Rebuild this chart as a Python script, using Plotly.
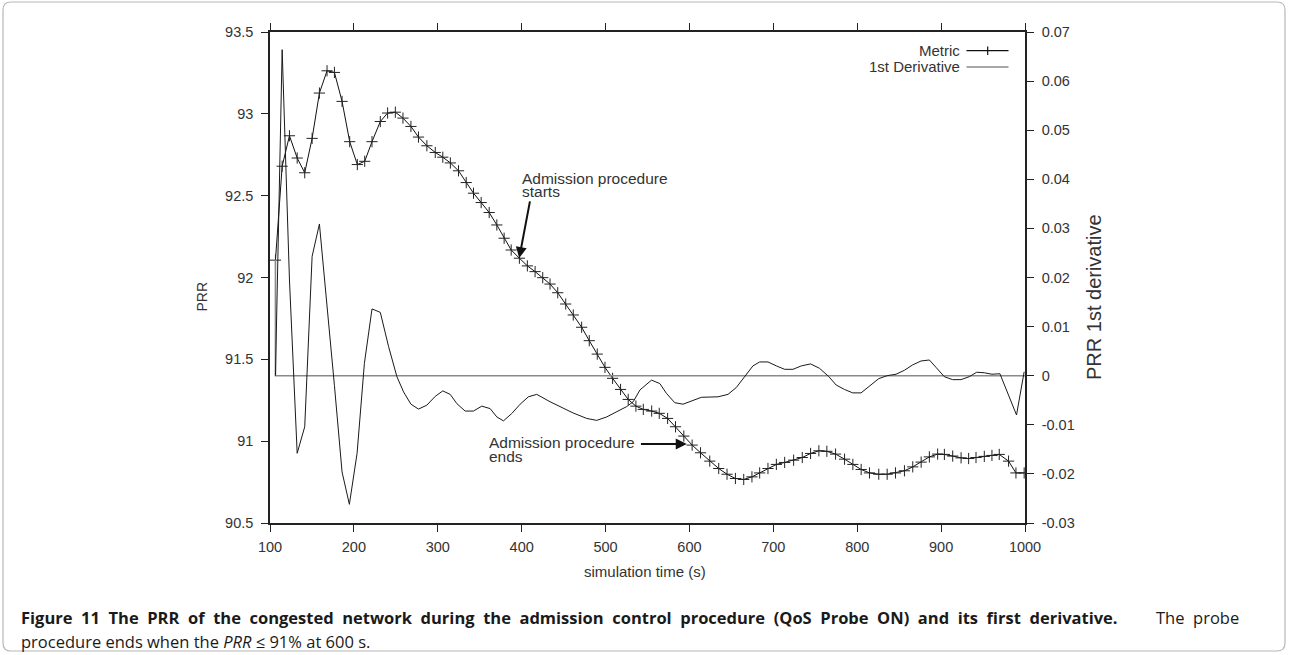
import plotly.graph_objects as go

# ---------------- data ----------------
time_s = [106.5, 114.5, 123.2, 132.4, 141.4, 150.2, 158.9, 168, 176.8, 185.9,
          195, 204.1, 212.9, 221.6, 231.5, 240.2, 249.4, 258.5, 268, 277,
          287, 297, 306, 315, 324.7, 333.9, 342.6, 351.7, 361.3, 370.4,
          379.1, 387.5, 397.3, 406.8, 416, 425.1, 433.8, 443, 452.5, 461.5,
          471.5, 480.6, 490.1, 499.3, 508.4, 517.9, 527, 536.2, 545, 555,
          564, 574, 583.4, 593.3, 603.2, 613.2, 624.2, 634.9, 644.8, 654.8,
          664.7, 674.5, 683.7, 693.6, 703.6, 713.5, 724.2, 734.5, 744.4, 754.3,
          763.8, 774.2, 784.9, 794.8, 804.7, 814.6, 825.7, 835.7, 845.6, 856.3,
          866.2, 876.2, 886, 895.9, 903.9, 913.8, 923.8, 932.8, 941.6, 951.5,
          960.6, 969.3, 980.4, 989.2, 999]

metric = [92.106, 92.68, 92.866, 92.73, 92.64, 92.85, 93.127, 93.263, 93.253, 93.076,
          92.83, 92.69, 92.71, 92.83, 92.953, 93.005, 93.01, 92.974, 92.923, 92.858,
          92.805, 92.764, 92.735, 92.70, 92.652, 92.58, 92.515, 92.458, 92.397, 92.321,
          92.24, 92.168, 92.118, 92.071, 92.036, 91.999, 91.96, 91.907, 91.838, 91.771,
          91.696, 91.614, 91.532, 91.451, 91.384, 91.316, 91.255, 91.214, 91.194, 91.184,
          91.17, 91.139, 91.088, 91.031, 90.976, 90.929, 90.878, 90.833, 90.798, 90.772,
          90.766, 90.782, 90.806, 90.833, 90.858, 90.870, 90.884, 90.90, 90.925, 90.941,
          90.938, 90.921, 90.89, 90.858, 90.827, 90.806, 90.798, 90.798, 90.806, 90.819,
          90.843, 90.872, 90.904, 90.921, 90.919, 90.909, 90.898, 90.894, 90.90, 90.907,
          90.913, 90.919, 90.878, 90.806, 90.806]

deriv_time = [106.5, 114.5, 123.2, 132.4, 141.4, 150.2, 158.9, 168, 176.8, 185.9,
              194.6, 203.8, 212.5, 221.6, 231.5, 241.4, 251.3, 259.2, 268, 277,
              287, 297, 306, 314.8, 322.8, 332.6, 342.5, 352.5, 362.4, 370.4,
              378.3, 388.2, 398.2, 408, 418, 433.8, 445.7, 461.5, 477.5, 489.4,
              501.3, 513.2, 525.1, 533, 541, 554.8, 564.7, 572.6, 582.5, 592.4,
              602.3, 614.2, 634.1, 646, 655.9, 665.8, 675.7, 683.7, 693.6, 703.6,
              713.5, 723.4, 733.4, 744.4, 755.1, 766.2, 774.9, 784.8, 794.7, 804.6,
              814.6, 825.6, 835.6, 846.3, 856.2, 866.1, 876.1, 886, 893.9, 903.8,
              913.7, 923.7, 933.6, 942.3, 951.5, 960.6, 970.1, 989.9, 999]

derivative = [0.0, 0.0664, 0.0195, -0.0158, -0.0104, 0.0243, 0.0309, 0.0148, -0.002, -0.0196,
              -0.0262, -0.0158, 0.0025, 0.0136, 0.0129, 0.0059, -0.0002, -0.0033, -0.0058, -0.0068,
              -0.006, -0.0042, -0.0031, -0.0038, -0.0057, -0.0072, -0.0072, -0.0062, -0.0067, -0.0084,
              -0.0092, -0.0077, -0.0058, -0.0043, -0.0038, -0.0053, -0.0063, -0.0076, -0.0087, -0.0091,
              -0.0084, -0.0074, -0.0063, -0.0053, -0.0029, -0.0009, -0.0016, -0.0036, -0.0055, -0.0058,
              -0.0051, -0.0044, -0.0043, -0.0038, -0.0024, -0.0002, 0.002, 0.0028, 0.0028, 0.002,
              0.0013, 0.0013, 0.002, 0.0024, 0.0015, -0.0002, -0.0019, -0.0028, -0.0035, -0.0035,
              -0.0021, -0.0006, 0.0, 0.0003, 0.0011, 0.0022, 0.003, 0.0032, 0.0017, -0.0002,
              -0.0008, -0.0008, -0.0002, 0.0007, 0.0006, 0.0003, 0.0004, -0.008, 0.0008]

# grey reference line on the derivative axis
ref_time = [106.5, 106.5, 1000]
ref_value = [0.0236, 0.0, 0.0]

x_ticks = [100, 200, 300, 400, 500, 600, 700, 800, 900, 1000]
y_ticks = [90.5, 91, 91.5, 92, 92.5, 93, 93.5]
y_tick_text = ["90.5", "91", "91.5", "92", "92.5", "93", "93.5"]
y2_ticks = [-0.03, -0.02, -0.01, 0, 0.01, 0.02, 0.03, 0.04, 0.05, 0.06, 0.07]
y2_tick_text = ["-0.03", "-0.02", "-0.01", "0", "0.01", "0.02", "0.03", "0.04", "0.05", "0.06", "0.07"]

# ---------------- layout geometry ----------------
W, H = 1289, 655
ML, MR, MT, MB = 270, 264, 32, 132
PW = W - ML - MR
PH = H - MT - MB


def px(xp):
    return (xp - ML) / PW


def py(yp):
    return (H - MB - yp) / PH


FONT = "Liberation Sans, Arial, Helvetica, sans-serif"
TXT = "#333333"
AX = "#222222"

fig = go.Figure()

fig.add_trace(go.Scatter(
    x=ref_time, y=ref_value, yaxis="y2", mode="lines",
    line=dict(color="#8a8a8a", width=1.6), showlegend=False, hoverinfo="skip"))

fig.add_trace(go.Scatter(
    x=deriv_time, y=derivative, yaxis="y2", mode="lines", name="1st Derivative",
    line=dict(color="#1a1a1a", width=1), showlegend=False))

fig.add_trace(go.Scatter(
    x=time_s, y=metric, mode="lines+markers", name="Metric",
    line=dict(color="#111111", width=1),
    marker=dict(symbol="cross-thin", size=8, line=dict(color="#222222", width=1)),
    showlegend=False))

annotations = []
shapes = []


def note(text, xp, yp, size, xanchor="center", yanchor="middle", angle=0, color=TXT, family=FONT):
    annotations.append(dict(text=text, x=px(xp), y=py(yp), xref="paper", yref="paper",
                            xanchor=xanchor, yanchor=yanchor, showarrow=False, textangle=angle,
                            font=dict(family=family, size=size, color=color)))


# axis titles
note("PRR", 201.5, 297, 14, angle=-90)
note("PRR 1st derivative", 1094, 297, 20, angle=-90)
note("simulation time (s)", 645, 571, 15)

# text annotations with arrows
for txt, yv in (("Admission procedure", 92.603), ("starts", 92.527)):
    annotations.append(dict(text=txt, x=398.3, y=yv, xanchor="left", yanchor="middle",
                            showarrow=False, font=dict(family=FONT, size=15.5, color=TXT)))
annotations.append(dict(text="", x=397.1, y=92.119, ax=410.2, ay=92.474, axref="x", ayref="y",
                        showarrow=True, arrowhead=2, arrowsize=1.1, arrowwidth=2, arrowcolor="#111"))

for txt, yv in (("Admission procedure", 90.990), ("ends", 90.908)):
    annotations.append(dict(text=txt, x=358.6, y=yv, xanchor="left", yanchor="middle",
                            showarrow=False, font=dict(family=FONT, size=15.5, color=TXT)))
annotations.append(dict(text="", x=596.8, y=90.982, ax=540.4, ay=90.982, axref="x", ayref="y",
                        showarrow=True, arrowhead=2, arrowsize=1.1, arrowwidth=2, arrowcolor="#111"))

# legend (text left, sample right)
note("Metric", 962, 50.7, 15, xanchor="right")
note("1st Derivative", 962, 66, 15, xanchor="right")
shapes.append(dict(type="line", xref="paper", yref="paper", x0=px(966.5), x1=px(1008.5),
                   y0=py(50.7), y1=py(50.7), line=dict(color="#111", width=1.2)))
shapes.append(dict(type="line", xref="paper", yref="paper", x0=px(987.7), x1=px(987.7),
                   y0=py(46.5), y1=py(55), line=dict(color="#111", width=1.2)))
shapes.append(dict(type="line", xref="paper", yref="paper", x0=px(966.5), x1=px(1008.5),
                   y0=py(67), y1=py(67), line=dict(color="#8a8a8a", width=1.6)))

# caption (justified first line emulated with widened spaces)
CAP_FONT = "Open Sans, Noto Sans, sans-serif"
bold_caption = ("Figure 11 The PRR of the congested network during the admission control procedure "
                "(QoS Probe ON) and its first derivative.")
wide = "\u00a0\u00a0"
note("<b>" + bold_caption.replace(" ", wide) + "</b>", 19, 617, 16.5, xanchor="left",
     color="#1a1a1a", family=CAP_FONT)
note("The" + wide + "probe", 1241, 617, 16.5, xanchor="right", color="#1a1a1a", family=CAP_FONT)
note("procedure ends when the <i>PRR</i> ≤ 91% at 600 s.", 19, 641, 16.5, xanchor="left",
     color="#1a1a1a", family=CAP_FONT)

# rounded outer frame
x0, x1, y0, y1 = px(3), px(1285), py(2), py(651)
rx, ry = 8 / PW, 8 / PH
path = (f"M {x0 + rx},{y0} L {x1 - rx},{y0} Q {x1},{y0} {x1},{y0 - ry} "
        f"L {x1},{y1 + ry} Q {x1},{y1} {x1 - rx},{y1} L {x0 + rx},{y1} "
        f"Q {x0},{y1} {x0},{y1 + ry} L {x0},{y0 - ry} Q {x0},{y0} {x0 + rx},{y0} Z")
shapes.append(dict(type="path", xref="paper", yref="paper", path=path,
                   line=dict(color="#b8b8b8", width=1.2), layer="below"))

tickfont = dict(family=FONT, size=14.5, color=TXT)
fig.update_layout(
    width=W, height=H,
    margin=dict(l=ML, r=MR, t=MT, b=MB, autoexpand=False),
    paper_bgcolor="white", plot_bgcolor="white",
    showlegend=False,
    xaxis=dict(range=[100, 1000], tickvals=x_ticks, ticks="outside", ticklen=7, tickwidth=1.2,
               tickcolor=AX, showline=True, linecolor=AX, linewidth=1.5, mirror="ticks",
               showgrid=False, zeroline=False, tickfont=tickfont, ticklabelstandoff=3),
    yaxis=dict(range=[90.5, 93.5], tickvals=y_ticks, ticktext=y_tick_text, ticks="outside",
               ticklen=7, tickwidth=1.2, tickcolor=AX, showline=True, linecolor=AX, linewidth=1.5,
               showgrid=False, zeroline=False, tickfont=tickfont, ticklabelstandoff=5),
    yaxis2=dict(range=[-0.03, 0.07], tickvals=y2_ticks, ticktext=y2_tick_text, overlaying="y",
                side="right", ticks="outside", ticklen=7, tickwidth=1.2, tickcolor=AX,
                showline=True, linecolor=AX, linewidth=1.5, showgrid=False, zeroline=False,
                tickfont=tickfont, ticklabelstandoff=5),
    annotations=annotations,
    shapes=shapes,
)

fig.write_html("out.html", config={"displayModeBar": False},
               post_script="document.body.style.margin='0px';")
